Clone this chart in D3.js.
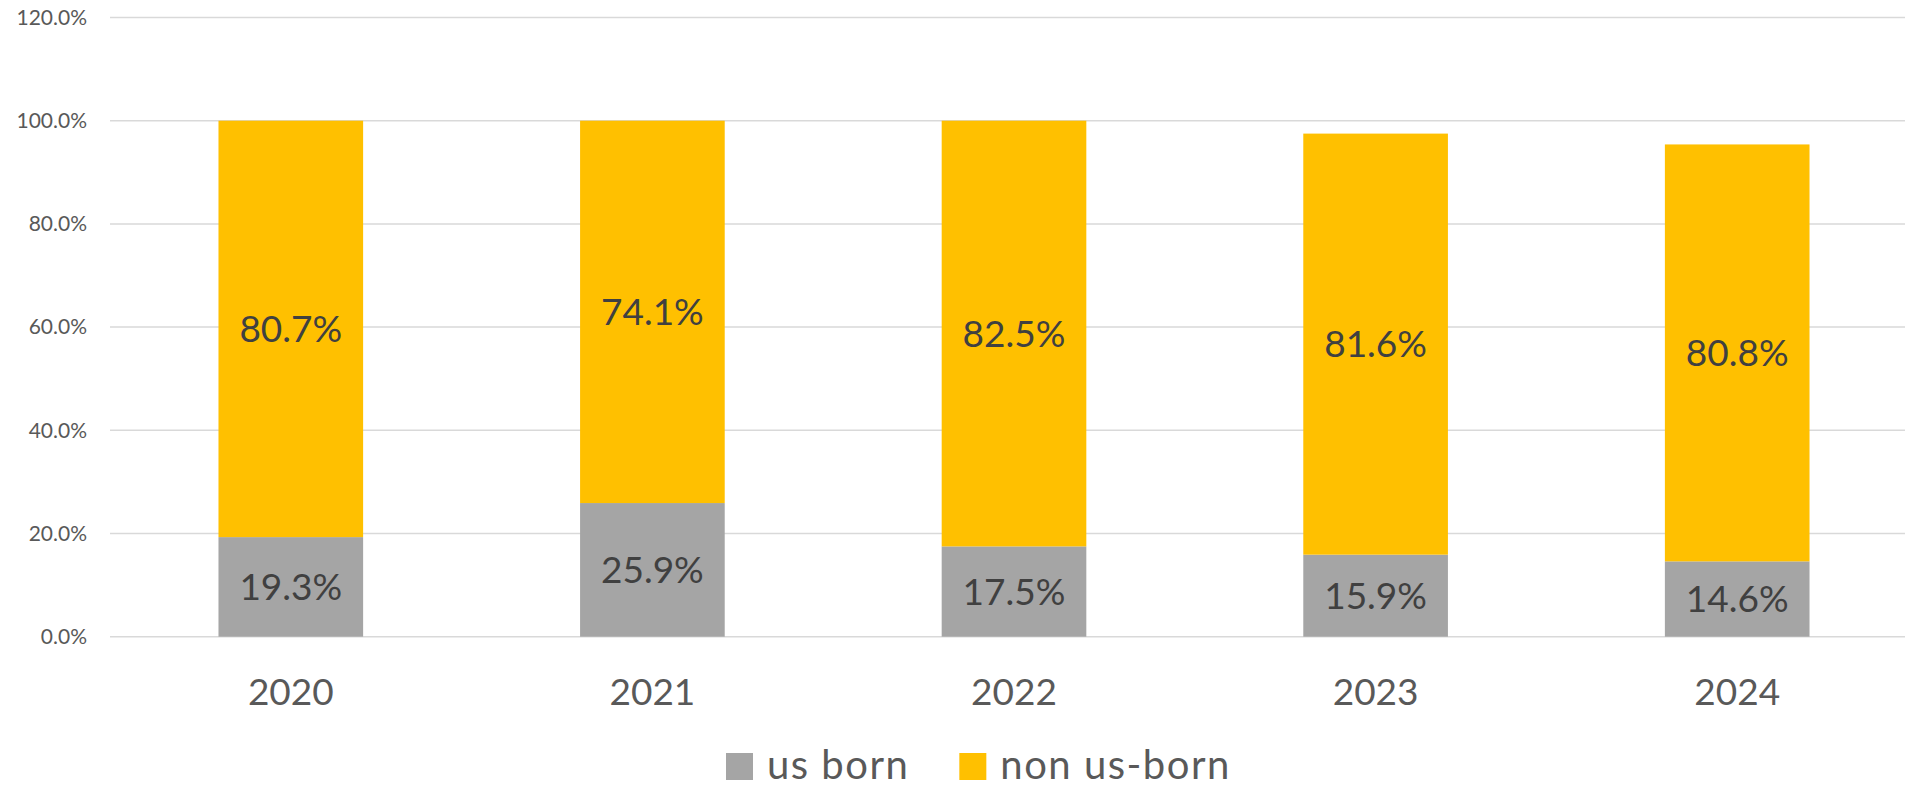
<!DOCTYPE html>
<html>
<head>
<meta charset="utf-8">
<script src="https://cdn.jsdelivr.net/npm/d3@7"></script>
<style>
  body { margin: 0; background: #fff; }
  svg { display: block; font-family: Lato, "Open Sans", sans-serif; }
</style>
</head>
<body>
<div id="chart"></div>
<script>
var years = ["2020", "2021", "2022", "2023", "2024"]
var usBorn = [0.193, 0.259, 0.175, 0.159, 0.146]
var nonUsBorn = [0.807, 0.741, 0.825, 0.816, 0.808]
var yTicks = [0, 0.2, 0.4, 0.6, 0.8, 1.0, 1.2]
var seriesNames = ["us born", "non us-born"]
var seriesColors = ["#a5a5a5", "#ffc000"]

var W = 1905, H = 788
var plot = {left: 110, right: 1918, top: 17.5, bottom: 636.7}

var svg = d3.select("#chart").append("svg")
    .attr("width", W)
    .attr("height", H)

var x = d3.scaleBand()
  .domain(years)
  .range([plot.left, plot.right])
  .paddingInner(0.6)
  .paddingOuter(0.3)

var y = d3.scaleLinear()
  .domain([0, 1.2])
  .range([plot.bottom, plot.top])

var fmt = d3.format(".1%")

// gridlines
svg.append("g")
  .selectAll("line")
  .data(yTicks)
  .join("line")
    .attr("x1", plot.left)
    .attr("x2", W)
    .attr("y1", function(d) { return y(d) })
    .attr("y2", function(d) { return y(d) })
    .attr("stroke", "#d9d9d9")
    .attr("stroke-width", 1.5)

// y axis labels
var yAxis = d3.axisLeft(y).tickValues(yTicks).tickFormat(fmt).tickSize(0).tickPadding(0)
var yg = svg.append("g")
  .attr("transform", "translate(87,0)")
  .call(yAxis)
yg.select(".domain").remove()
yg.selectAll("text")
  .attr("fill", "#595959")
  .style("font-size", "21px")
  .style("font-family", "Lato, sans-serif")

// stacked data
var rows = years.map(function(yr, i) {
  return {year: yr, us: usBorn[i], non: nonUsBorn[i]}
})
var stack = d3.stack().keys(["us", "non"])(rows)

var layers = svg.append("g")
  .selectAll("g")
  .data(stack)
  .join("g")
    .attr("fill", function(d, i) { return seriesColors[i] })

layers.selectAll("rect")
  .data(function(d) { return d })
  .join("rect")
    .attr("x", function(d) { return x(d.data.year) })
    .attr("width", x.bandwidth())
    .attr("y", function(d) { return y(d[1]) })
    .attr("height", function(d) { return y(d[0]) - y(d[1]) })

// data labels
layers.selectAll("text")
  .data(function(d) { return d })
  .join("text")
    .attr("x", function(d) { return x(d.data.year) + x.bandwidth() / 2 })
    .attr("y", function(d) { return (y(d[0]) + y(d[1])) / 2 })
    .attr("dy", "0.36em")
    .attr("text-anchor", "middle")
    .attr("fill", "#404040")
    .style("font-size", "37px")
    .text(function(d) { return fmt(d[1] - d[0]) })

// x axis labels
var xg = svg.append("g")
  .attr("transform", "translate(0," + plot.bottom + ")")
  .call(d3.axisBottom(x).tickSize(0).tickPadding(0))
xg.select(".domain").remove()
xg.selectAll("text")
  .attr("y", 68)
  .attr("dy", 0)
  .attr("fill", "#595959")
  .style("font-size", "37px")
  .style("font-family", "Lato, sans-serif")

// legend
var legend = svg.append("g").attr("transform", "translate(726,779)")
var lx = 0
seriesNames.forEach(function(name, i) {
  var item = legend.append("g").attr("transform", "translate(" + lx + ",0)")
  item.append("rect")
    .attr("x", 0).attr("y", -26)
    .attr("width", 27).attr("height", 27)
    .attr("fill", seriesColors[i])
  var t = item.append("text")
    .attr("x", 41)
    .attr("y", 0)
    .attr("fill", "#595959")
    .style("font-size", "40px")
    .style("letter-spacing", "1.5px")
    .text(name)
  lx += 41 + t.node().getComputedTextLength() + 50
})
</script>
</body>
</html>
